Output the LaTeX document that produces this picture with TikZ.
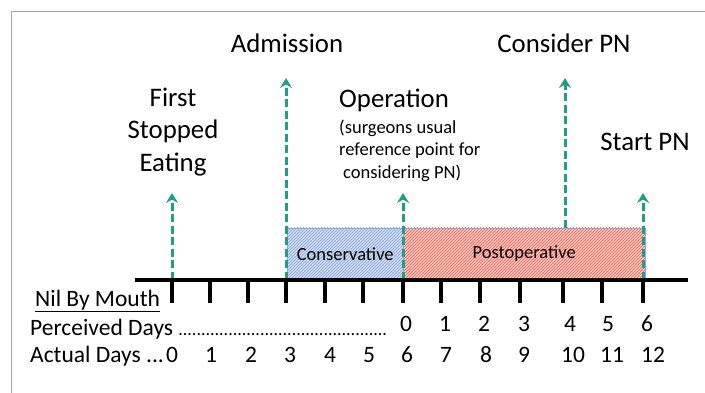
\documentclass[tikz,border=0pt]{standalone}
\usepackage{fontspec}
\setmainfont{Carlito}
\usetikzlibrary{positioning,arrows.meta,patterns}

\definecolor{eventgreen}{RGB}{30,160,130}
\definecolor{consfill}{RGB}{205,218,240}
\definecolor{consline}{RGB}{140,168,218}
\definecolor{postfill}{RGB}{250,196,188}
\definecolor{postline}{RGB}{236,100,88}
\newcommand{\dotrun}{{\fontsize{18}{18}\selectfont ..............................................}}

\tikzset{
  event/.style={eventgreen, line width=3pt, dash pattern=on 8pt off 3.5pt,
    -{Stealth[length=10pt,width=12pt,inset=3.5pt]}},
  bigtext/.style={font=\fontsize{26.8}{33}\selectfont, inner sep=0pt},
  notetext/.style={font=\fontsize{18.5}{23}\selectfont, inner sep=0pt},
  daytext/.style={font=\fontsize{23.5}{28}\selectfont, inner sep=0pt},
  tickmark/.style={line width=4pt},
  consbox/.style={draw=consline, preaction={fill=consfill},
    pattern=north east lines, pattern color=consline,
    font=\fontsize{18.5}{22}\selectfont, inner sep=0pt},
  postbox/.style={draw=consline, preaction={fill=postfill},
    pattern=north east lines, pattern color=postline,
    font=\fontsize{18.5}{22}\selectfont, inner sep=0pt}
}

\begin{document}
\begin{tikzpicture}[x=1pt,y=-1pt]
\useasboundingbox (0,0) rectangle (705,393);
\draw[gray!70, line width=1pt] (11,393) -- (11,12) -- (705,12);

% phases
\node[consbox, minimum width=116pt, minimum height=52pt, anchor=south west] (cons) at (287,280) {Conservative};
\node[postbox, minimum width=242pt, minimum height=52pt, anchor=south west] (post) at (403,280) {\raisebox{-2pt}{Postoperative}};

% axis and day ticks
\foreach \x [count=\i from 0] in {172,210,248,286,325,363,403,441,480,520,563,602,643}
  \coordinate (t\i) at (\x,280);
\coordinate (axisL) at (135,280);
\coordinate (axisR) at (688,280);

% events
\coordinate (firsttip) at (172,193);
\coordinate (admittip) at (286,78);
\coordinate (optip) at (403,193);
\coordinate (considerfoot) at (565,228);
\coordinate (considertip) at (565,78);
\coordinate (starttip) at (643,193);
\draw[event] (t0) -- (firsttip);
\draw[event] (t3) -- (admittip);
\draw[event] (t6) -- (optip);
\draw[event] (considerfoot) -- (considertip);
\draw[event] (t12) -- (starttip);

\draw[line width=4.5pt] (axisL) -- (axisR);
\foreach \i in {0,...,12}
  \draw[tickmark] (t\i) -- ++(0,23);

% labels
\node[bigtext, anchor=base] (admission) at (287,53) {Admission};
\node[bigtext, anchor=base] (consider) at (564,53) {Consider PN};
\node[bigtext, align=center, anchor=base] (first) at (173,172) {First\\Stopped\\Eating};
\node[bigtext, anchor=base west] (operation) at (339,108) {Operation};
\node[notetext, align=left, anchor=base west] (note) at (339,179) {(surgeons usual\\reference point for\\\hspace*{4pt}considering PN)};
\node[bigtext, anchor=base] (startpn) at (645,151) {Start PN};

\node[daytext, anchor=base west] (nbm) at (35,306) {\underline{Nil By Mouth}};
\node[daytext, anchor=base west] (perceived) at (30,335) {Perceived Days \dotrun};
\node[daytext, anchor=base west] (actual) at (30,362) {Actual Days ...};
\foreach \x [count=\i from 0] in {406,445,484,524,570,608,647}
  \node[daytext, anchor=base] (p\i) at (\x,331) {\i};
\foreach \x [count=\i from 0] in {172,211,251,290,330,369,407,446,486,524,573,612,653}
  \node[daytext, anchor=base] (a\i) at (\x,362) {\i};
\end{tikzpicture}
\end{document}
